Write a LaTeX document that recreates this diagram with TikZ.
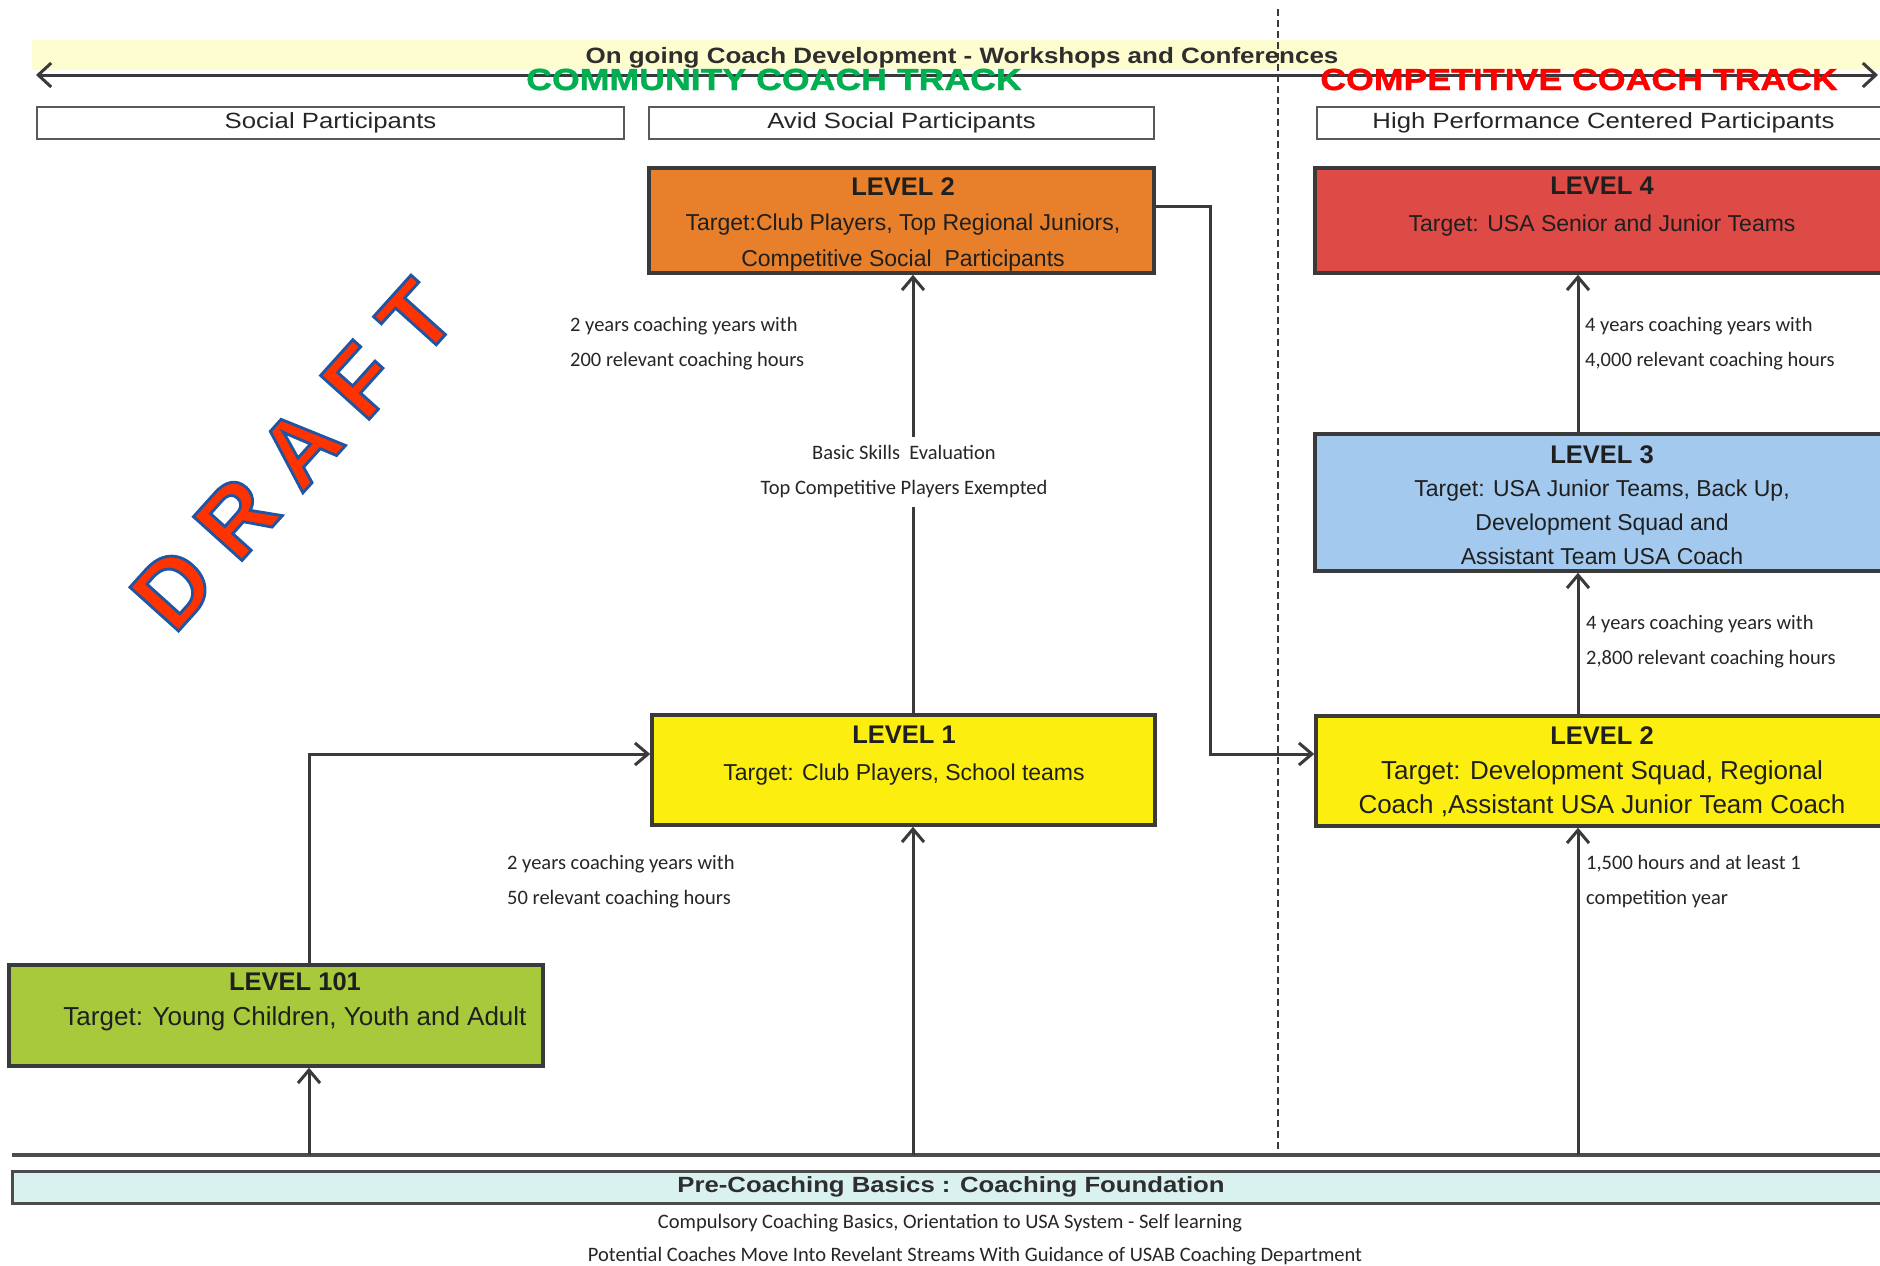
\documentclass[tikz,border=0pt]{standalone}
\usepackage{fontspec}
\setmainfont{Liberation Sans}
\newfontfamily\hdrfont[FakeStretch=1.17]{Liberation Sans}
\newfontfamily\trackfont[FakeStretch=1.17,FakeBold=1.2]{Liberation Sans Bold}
\newfontfamily\draftfont[FakeBold=3]{Liberation Sans Bold}
\newfontfamily\calfont{Carlito}
\usetikzlibrary{arrows.meta}
\definecolor{bandY}{HTML}{FEFDCF}
\definecolor{orangeL}{HTML}{E8802B}
\definecolor{redL}{HTML}{DE4A46}
\definecolor{blueL}{HTML}{A3C9EE}
\definecolor{yelL}{HTML}{FCEF0F}
\definecolor{greenL}{HTML}{A8C93B}
\definecolor{cyanL}{HTML}{D9F1EF}
\definecolor{trackG}{HTML}{00B050}
\definecolor{trackR}{HTML}{FF0000}
\definecolor{lineC}{HTML}{3A3A3A}
\definecolor{draftR}{HTML}{FF3300}
\newcommand\lvh[1]{{\bfseries\fontsize{25.5}{30}\selectfont #1}}
\newcommand\bluestroke{\special{pdf:literal direct 0.122 0.333 0.647 RG}}
\begin{document}
\begin{tikzpicture}[x=1pt,y=-1pt,
  lvbox/.style={draw=lineC, line width=3.5pt, inner sep=0pt, rectangle},
  ptbox/.style={draw=black!65, line width=2.5pt, fill=white, inner sep=0pt,
     font=\hdrfont\fontsize{22}{26}\selectfont, text=black!85},
  lvtxt/.style={align=center, inner sep=0pt, text=black!88},
  lbl/.style={inner sep=0pt, text=black!85, font=\calfont\fontsize{20.5}{35}\selectfont},
  ln/.style={draw=lineC, line width=3pt},
  arr/.style={draw=lineC, line width=3pt, -{Straight Barb[length=13pt,width=22pt]}},
  harr/.style={draw=lineC, line width=3pt, {Straight Barb[length=13pt,width=24pt]}-{Straight Barb[length=13pt,width=24pt]}},
  band/.style={fill=bandY, inner sep=0pt, minimum width=1858, minimum height=30},
  track/.style={anchor=base, inner sep=0pt, font=\trackfont\fontsize{30.5}{34}\selectfont}
]
\useasboundingbox (0,0) rectangle (1880,1266);
\clip (0,0) rectangle (1880,1266);
\fill[white] (0,0) rectangle (1880,1266);

% top band
\node[band] (band) at (961,55) {};

% dashed divider
\coordinate (dtop) at (1278,9);
\coordinate (dbot) at (1278,1153);
\draw[lineC, line width=1.5pt, dash pattern=on 7pt off 4pt] (dtop) -- (dbot);

% header arrow
\coordinate (hl) at (36,75);
\coordinate (hr) at (1878,75);
\draw[harr] (hl) -- (hr);

\node[anchor=base, inner sep=0pt, text=black!82, font=\hdrfont\bfseries\fontsize{22.2}{26}\selectfont] (ongoing) at (962,63) {On going Coach Development - Workshops and Conferences};

\node[track, text=trackG] (comm) at (774,90) {COMMUNITY COACH TRACK};
\node[track, text=trackR] (comp) at (1579,90) {COMPETITIVE COACH TRACK};

% participant boxes
\node[ptbox, minimum width=587, minimum height=32] (sp) at (330.5,123) {Social Participants};
\node[ptbox, minimum width=505, minimum height=32] (asp) at (901.5,123) {Avid Social Participants};
\node[ptbox, minimum width=573, minimum height=32] (hpc) at (1603.5,123) {High Performance Centered Participants};

% level boxes
\node[lvbox, fill=orangeL, minimum width=505, minimum height=105] (o2) at (901.5,220.5) {};
\node[lvbox, fill=redL, minimum width=575, minimum height=105] (l4) at (1602.5,220.5) {};
\node[lvbox, fill=blueL, minimum width=575, minimum height=137] (l3) at (1602.5,502.5) {};
\node[lvbox, fill=yelL, minimum width=574, minimum height=110] (c2) at (1603,771) {};
\node[lvbox, fill=yelL, minimum width=503, minimum height=110] (l1) at (903.5,770) {};
\node[lvbox, fill=greenL, minimum width=534, minimum height=101] (l101) at (276,1015.5) {};

\node[lvtxt, font=\fontsize{23}{35.5}\selectfont] (o2t) at (903,224)
  {\lvh{LEVEL 2}\\Target:Club Players, Top Regional Juniors,\\Competitive Social\ \ Participants};
\node[lvtxt, font=\fontsize{23}{37}\selectfont] (l4t) at (1602,207)
  {\lvh{LEVEL 4}\\Target: USA Senior and Junior Teams};
\node[lvtxt, font=\fontsize{23}{33.7}\selectfont] (l3t) at (1602,505)
  {\lvh{LEVEL 3}\\Target: USA Junior Teams, Back Up,\\Development Squad and\\Assistant Team USA Coach};
\node[lvtxt, font=\fontsize{26}{34.5}\selectfont] (c2t) at (1602,772)
  {\lvh{LEVEL 2}\\Target: Development Squad, Regional\\Coach ,Assistant USA Junior Team Coach};
\node[lvtxt, font=\fontsize{23}{37}\selectfont] (l1t) at (904,756)
  {\lvh{LEVEL 1}\\Target: Club Players, School teams};
\node[lvtxt, font=\fontsize{26}{35}\selectfont] (l101t) at (295,1002)
  {\lvh{LEVEL 101}\\Target: Young Children, Youth and Adult};

% labels
\node[lbl, align=left, anchor=west] (lab1) at (570,344) {2 years coaching years with\\200 relevant coaching hours};
\node[lbl, align=center, inner ysep=9pt] (bse) at (904,472) {Basic Skills\ \ Evaluation\\Top Competitive Players Exempted};
\node[lbl, align=left, anchor=west] (lab4) at (1585,344) {4 years coaching years with\\4,000 relevant coaching hours};
\node[lbl, align=left, anchor=west] (lab3) at (1586,642) {4 years coaching years with\\2,800 relevant coaching hours};
\node[lbl, align=left, anchor=west] (lab2) at (1586,882) {1,500 hours and at least 1\\competition year};
\node[lbl, align=left, anchor=west] (lab1b) at (507,882) {2 years coaching years with\\50 relevant coaching hours};

% bottom base line
\coordinate (bl) at (12,1155);
\coordinate (br) at (1880,1155);
\draw[black!70, line width=4pt] (bl) -- (br);
\coordinate (s1) at (309,1155);
\coordinate (s2) at (913,1155);
\coordinate (s3) at (1578,1155);

% pre-coaching box
\node[lvbox, draw=black!70, line width=3pt, fill=cyanL, minimum width=1878, minimum height=32,
  font=\hdrfont\bfseries\fontsize{22}{26}\selectfont, text=black!82] (pre) at (951,1187)
  {Pre-Coaching Basics : Coaching Foundation};
\node[lbl] (bt1) at (950,1223) {Compulsory Coaching Basics, Orientation to USA System - Self learning};
\node[lbl] (bt2) at (975,1256) {Potential Coaches Move Into Revelant Streams With Guidance of USAB Coaching Department};

% connectors
\draw[arr] (s1) -- (l101.south -| s1);
\coordinate (k1) at (309,754);
\draw[arr] (l101.north -| k1) |- (l1.west |- k1);
\draw[arr] (s2) -- (l1.south -| s2);
\draw[ln] (l1.north -| s2) -- (bse.south -| s2);
\draw[arr] (bse.north -| s2) -- (o2.south -| s2);
\coordinate (e1) at (1210,206);
\coordinate (e2) at (1210,754);
\draw[arr] (o2.east |- e1) -- (e1) -- (e2) -- (c2.west |- e2);
\draw[arr] (s3) -- (c2.south -| s3);
\draw[arr] (c2.north -| s3) -- (l3.south -| s3);
\draw[arr] (l3.north -| s3) -- (l4.south -| s3);

% watermark: red fill, blue stroke
\node[rotate=48, inner sep=0pt, text=draftR, font=\draftfont\fontsize{95}{95}\selectfont] (draft) at (293,455)
  {\bluestroke D R A F T};
\end{tikzpicture}
\end{document}
